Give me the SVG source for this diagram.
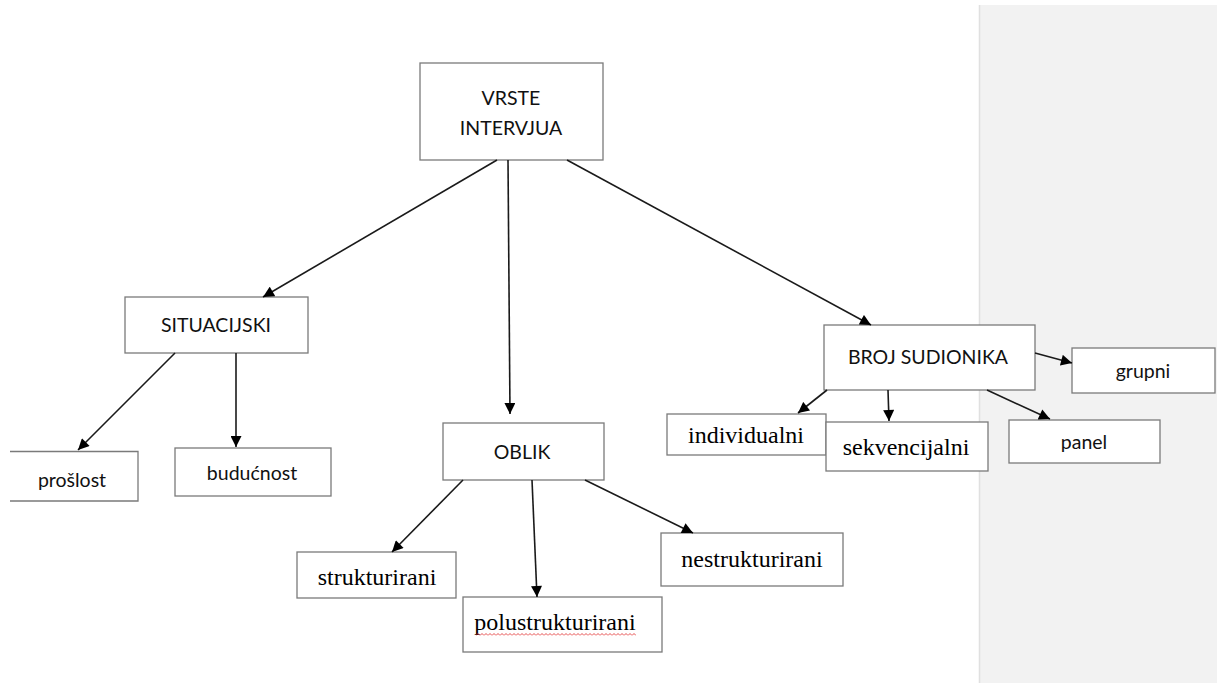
<svg xmlns="http://www.w3.org/2000/svg" width="1217" height="683" viewBox="0 0 1217 683">
<style>
.box{fill:#fff;stroke:#7a7a7a;stroke-width:1.3}
.sans{font-family:Lato,"Liberation Sans",sans-serif;font-size:19.5px;fill:#111;text-anchor:middle}
.serif{font-family:"Liberation Serif",serif;font-size:24px;fill:#000;text-anchor:middle}
.conn line{stroke:#1a1a1a;stroke-width:1.6;marker-end:url(#ah)}
</style>
<defs>
<marker id="ah" viewBox="0 0 10 10" refX="10" refY="5" markerWidth="12" markerHeight="11" markerUnits="userSpaceOnUse" orient="auto">
<path d="M0,0 L10,5 L0,10 Z" fill="#000"/>
</marker>
<pattern id="sq" x="0" y="0" width="4" height="3" patternUnits="userSpaceOnUse">
<path d="M0,2.5 L2,0.5 L4,2.5" fill="none" stroke="#e02020" stroke-width="0.8"/>
</pattern>
</defs>
<rect width="1217" height="683" fill="#fff"/>
<rect x="979" y="5" width="238" height="678" fill="#f2f2f2"/>
<line x1="979.5" y1="5" x2="979.5" y2="683" stroke="#e0e0e0" stroke-width="1.5"/>

<g id="n-vrste"><rect class="box" x="420" y="63" width="183" height="97"/><text class="sans" x="511" y="105">VRSTE</text><text class="sans" x="511" y="135">INTERVJUA</text></g>
<g id="n-situacijski"><rect class="box" x="125" y="297" width="183" height="56"/><text class="sans" x="216" y="332">SITUACIJSKI</text></g>
<g id="n-proslost"><rect x="0" y="451" width="138" height="50" fill="#fff"/><path d="M10,451.5 H138 V501 H10" fill="none" stroke="#7a7a7a" stroke-width="1.3"/><text class="sans" x="72" y="487">prošlost</text></g>
<g id="n-buducnost"><rect class="box" x="175" y="448" width="156" height="48"/><text class="sans" x="252" y="480">budućnost</text></g>
<g id="n-oblik"><rect class="box" x="443" y="423" width="161" height="57"/><text class="sans" x="522" y="459">OBLIK</text></g>
<g id="n-strukturirani"><rect class="box" x="297" y="552" width="159" height="46"/><text class="serif" x="377" y="585">strukturirani</text></g>
<g id="n-polustrukturirani"><rect class="box" x="463" y="597" width="199" height="55"/><text class="serif" x="555" y="630">polustrukturirani</text><rect x="476" y="633" width="160" height="3" fill="url(#sq)"/></g>
<g id="n-nestrukturirani"><rect class="box" x="661" y="533" width="182" height="53"/><text class="serif" x="752" y="567">nestrukturirani</text></g>
<g id="n-broj"><rect class="box" x="824" y="325" width="211" height="65"/><text class="sans" x="928" y="364">BROJ SUDIONIKA</text></g>
<g id="n-grupni"><rect class="box" x="1072" y="348" width="143" height="45"/><text class="sans" x="1143" y="378">grupni</text></g>
<g id="n-individualni"><rect class="box" x="667" y="414" width="159" height="41"/><text class="serif" x="746" y="443">individualni</text></g>
<g id="n-sekvencijalni"><rect class="box" x="826" y="422" width="162" height="49"/><text class="serif" x="906" y="455">sekvencijalni</text></g>
<g id="n-panel"><rect class="box" x="1009" y="420" width="151" height="43"/><text class="sans" x="1084" y="449">panel</text></g>

<g id="connectors" class="conn">
<line x1="497" y1="160" x2="263" y2="297"/>
<line x1="508" y1="160" x2="510" y2="414"/>
<line x1="567" y1="160" x2="871" y2="325"/>
<line x1="175" y1="353" x2="78" y2="450"/>
<line x1="236" y1="353" x2="236" y2="447"/>
<line x1="463" y1="480" x2="392" y2="552"/>
<line x1="532" y1="480" x2="537" y2="597"/>
<line x1="585" y1="480" x2="693" y2="533"/>
<line x1="1035" y1="353" x2="1072" y2="363"/>
<line x1="827" y1="390" x2="798" y2="413"/>
<line x1="888" y1="390" x2="889" y2="421"/>
<line x1="987" y1="390" x2="1050" y2="419"/>
</g>
</svg>
